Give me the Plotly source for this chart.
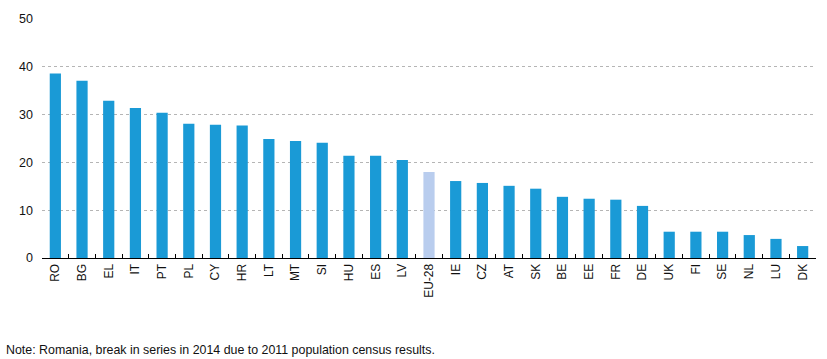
import plotly.graph_objects as go

countries = ["RO", "BG", "EL", "IT", "PT", "PL", "CY", "HR", "LT", "MT", "SI", "HU", "ES", "LV",
             "EU-28", "IE", "CZ", "AT", "SK", "BE", "EE", "FR", "DE", "UK", "FI", "SE", "NL", "LU", "DK"]
values = [38.6, 37.1, 32.9, 31.4, 30.4, 28.1, 27.9, 27.7, 24.9, 24.5, 24.1, 21.4, 21.4, 20.5,
          18.0, 16.1, 15.7, 15.1, 14.5, 12.8, 12.4, 12.2, 10.9, 5.5, 5.5, 5.5, 4.8, 4.0, 2.5]
y_ticks = [0, 10, 20, 30, 40, 50]
note = "Note: Romania, break in series in 2014 due to 2011 population census results."

colors = ["#b9cdee" if c == "EU-28" else "#1a9ad6" for c in countries]

fig = go.Figure(go.Bar(x=countries, y=values, marker=dict(color=colors, line=dict(width=0)),
                       width=0.42))

fig.update_layout(
    width=827, height=359,
    margin=dict(l=42, r=11, t=19, b=101),
    paper_bgcolor="white", plot_bgcolor="white",
    font=dict(family="Liberation Sans, Arial, sans-serif", size=12, color="#111"),
    showlegend=False,
    xaxis=dict(
        type="category", tickangle=-90, showgrid=False,
        showline=True, linecolor="black", linewidth=1,
        ticks="inside", tickson="boundaries", ticklen=4, tickcolor="black",
        tickfont=dict(size=12, color="#111"),
    ),
    yaxis=dict(
        range=[0, 50], tickvals=y_ticks, showgrid=True, gridcolor="#b5b5b5",
        griddash="dot", gridwidth=1, zeroline=False, showline=False,
        tickfont=dict(size=12.5, color="#111"), ticks="", ticklabelstandoff=8,
    ),
    annotations=[dict(
        text=note, xref="paper", yref="paper", x=0, y=0, xanchor="left", yanchor="middle",
        xshift=-38, yshift=-92, showarrow=False, font=dict(size=12.4, color="#111"),
    )],
)

fig.write_html("out.html", config={"displayModeBar": False},
               post_script="document.body.style.margin='0';document.body.style.overflow='hidden';")
